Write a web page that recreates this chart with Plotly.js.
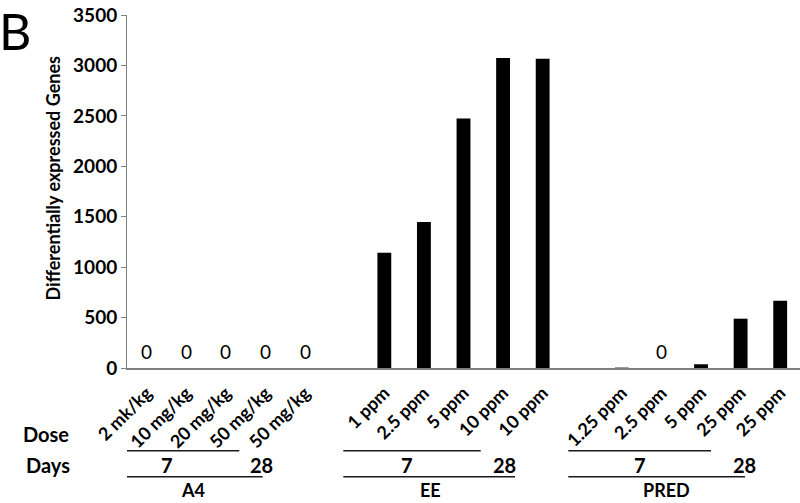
<!DOCTYPE html>
<html>
<head>
<meta charset="utf-8">
<script src="https://cdn.plot.ly/plotly-3.0.1.min.js"></script>
<style>html,body{margin:0;padding:0;background:#fff}#chart{width:800px;height:503px}</style>
</head>
<body>
<div id="chart"></div>
<script>
// Category positions (index 5 and 11 are gaps between groups)
const positions = [0,1,2,3,4, 6,7,8,9,10, 12,13,14,15,16];
const doseLabels = ["2 mk/kg","10 mg/kg","20 mg/kg","50 mg/kg","50 mg/kg",
                    "1 ppm","2.5 ppm","5 ppm","10 ppm","10 ppm",
                    "1.25 ppm","2.5 ppm","5 ppm","25 ppm","25 ppm"];
const degValues = [0,0,0,0,0, 1143,1448,2475,3074,3067, 4,0,37,489,667];
const zeroLabelIdx = [0,1,2,3,4,11];
const groups = ["A4","EE","PRED"];
const groupDays = ["7","28"];
const yTicks = [0,500,1000,1500,2000,2500,3000,3500];

const font = "Lato, 'Open Sans', sans-serif";

// layout geometry for the group brackets (x in category units)
const bracket = [
  {start: -1.265, upperEnd: 2.337, lowerEnd: 2.928, d7: 0.518, d28: 2.903, lab: 1.167},
  {start: 4.964, upperEnd: 8.435, lowerEnd: 9.301, d7: 6.580, d28: 9.048, lab: 7.171},
  {start: 10.647, upperEnd: 14.252, lowerEnd: 15.111, d7: 12.459, d28: 15.086, lab: 13.133}
];

const trace = {
  type: "bar",
  x: positions,
  y: degValues,
  width: 0.35,
  marker: {color: "#000000", line: {width: 0}},
  hoverinfo: "x+y"
};

const ann = [];
zeroLabelIdx.forEach(i => {
  ann.push({x: positions[i], y: 0, xref: "x", yref: "y", text: String(degValues[i]),
    showarrow: false, xanchor: "center", yanchor: "bottom", yshift: 3,
    font: {family: font, size: 19, color: "#000"}});
});
ann.push({x: 0, y: 0, xref: "paper", yref: "paper", text: "B", showarrow: false,
  xanchor: "left", yanchor: "top", xshift: -130, yshift: 369,
  font: {family: font, size: 50, color: "#000"}});
ann.push({x: 0, y: 0.537, xref: "paper", yref: "paper", text: "<b>Differentially expressed Genes</b>",
  showarrow: false, textangle: -90, xanchor: "center", yanchor: "middle", xshift: -74,
  font: {family: font, size: 18, color: "#000"}});
ann.push({x: 0, y: -0.187, xref: "paper", yref: "paper", text: "<b>Dose</b>", showarrow: false,
  xanchor: "center", yanchor: "middle", xshift: -81, font: {family: font, size: 20, color: "#000"}});
ann.push({x: 0, y: -0.275, xref: "paper", yref: "paper", text: "<b>Days</b>", showarrow: false,
  xanchor: "center", yanchor: "middle", xshift: -79, font: {family: font, size: 20, color: "#000"}});

const shapes = [];
bracket.forEach((b, k) => {
  shapes.push({type: "line", xref: "x", yref: "paper", x0: b.start, x1: b.upperEnd, y0: -0.2343, y1: -0.2343,
    line: {color: "#1a1a1a", width: 1.5}});
  shapes.push({type: "line", xref: "x", yref: "paper", x0: b.start, x1: b.lowerEnd, y0: -0.308, y1: -0.308,
    line: {color: "#1a1a1a", width: 1.5}});
  ann.push({x: b.d7, y: -0.275, xref: "x", yref: "paper", text: "<b>" + groupDays[0] + "</b>",
    showarrow: false, xanchor: "center", yanchor: "middle", font: {family: font, size: 20, color: "#000"}});
  ann.push({x: b.d28, y: -0.275, xref: "x", yref: "paper", text: "<b>" + groupDays[1] + "</b>",
    showarrow: false, xanchor: "center", yanchor: "middle", font: {family: font, size: 20, color: "#000"}});
  ann.push({x: b.lab, y: -0.345, xref: "x", yref: "paper", text: "<b>" + groups[k] + "</b>",
    showarrow: false, xanchor: "center", yanchor: "middle", font: {family: font, size: 18, color: "#000"}});
});

const layout = {
  width: 800, height: 503,
  margin: {l: 127, r: 0, t: 15, b: 135, pad: 0},
  paper_bgcolor: "#fff", plot_bgcolor: "#fff",
  showlegend: false,
  xaxis: {
    range: [-0.5, 16.5],
    tickmode: "array",
    tickvals: positions,
    ticktext: doseLabels.map(t => "<b>" + t + "</b>"),
    tickangle: -45,
    ticks: "",
    ticklabelstandoff: 6,
    showgrid: false, zeroline: false,
    showline: true, linecolor: "#808080", linewidth: 1.5,
    tickfont: {family: font, size: 18, color: "#000"},
    fixedrange: true
  },
  yaxis: {
    range: [0, 3500],
    tickmode: "array",
    tickvals: yTicks,
    ticktext: yTicks.map(v => "<b>" + v + "</b>"),
    ticks: "outside", ticklen: 5, tickcolor: "#808080", tickwidth: 1,
    showgrid: false, zeroline: false,
    showline: true, linecolor: "#808080", linewidth: 1,
    tickfont: {family: font, size: 19, color: "#000"},
    fixedrange: true
  },
  annotations: ann,
  shapes: shapes
};

Plotly.newPlot("chart", [trace], layout, {displayModeBar: false, staticPlot: true});
</script>
</body>
</html>
